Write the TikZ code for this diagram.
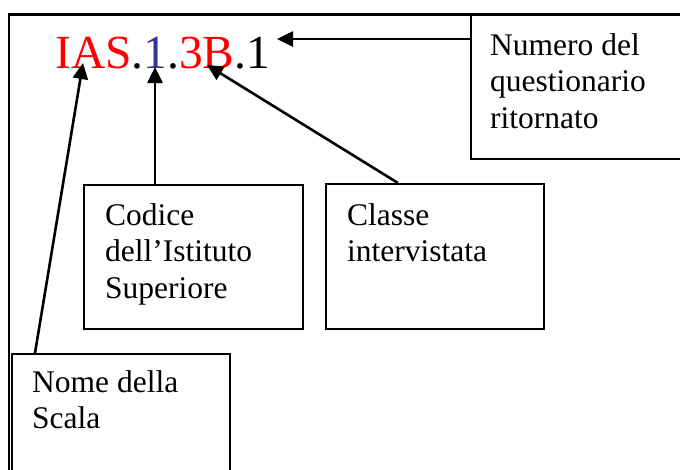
\documentclass[tikz,border=0pt]{standalone}
\usepackage{fontspec}
\setmainfont{Liberation Serif}
\usetikzlibrary{arrows.meta}
\definecolor{codeblue}{RGB}{51,51,153}
\definecolor{codered}{RGB}{255,0,0}
\begin{document}
\begin{tikzpicture}[x=1pt,y=-1pt,
  box/.style={draw, line width=1.8pt, inner sep=0pt, anchor=north west},
  lbl/.style={anchor=base west, inner sep=0pt, font=\fontsize{31.5}{36.5}\selectfont},
  conn/.style={line width=2.6pt, -{Triangle[length=16pt,width=15pt]}}]
\useasboundingbox (0,0) rectangle (680,469);
\clip (0,0) rectangle (680,469);
\fill[white] (0,0) rectangle (680,469);
% outer frame
\draw[line width=1.8pt] (9,480) -- (9,14);
\draw[line width=3pt] (8,14) -- (700,14);
% code
\node[anchor=base west, inner sep=0pt, font=\fontsize{47.5}{48}\selectfont] (code) at (55,68)
  {\textcolor{codered}{IAS}.\textcolor{codeblue}{1}.\textcolor{codered}{3B}.1};
% boxes
\node[box, minimum width=240pt, minimum height=144pt] (num) at (470,14) {};
\node[box, minimum width=219pt, minimum height=144pt] (cod) at (83,184) {};
\node[box, minimum width=218pt, minimum height=145pt] (cla) at (325,183) {};
\node[box, minimum width=218pt, minimum height=140pt] (nom) at (11,353) {};
% labels
\node[lbl] (numtxt) at (490,55) {\parbox[t]{185pt}{\raggedright Numero del\\questionario\\ritornato}};
\node[lbl] (codtxt) at (105,225) {\parbox[t]{195pt}{\raggedright Codice\\dell'Istituto\\Superiore}};
\node[lbl] (clatxt) at (347,225) {\parbox[t]{190pt}{\raggedright Classe\\intervistata}};
\node[lbl] (nomtxt) at (32,392) {\parbox[t]{190pt}{\raggedright Nome della\\Scala}};
% connector endpoints
\coordinate (numL) at (470,39);
\coordinate (tipNum) at (277,39);
\coordinate (codT) at (155,184);
\coordinate (tipCod) at (155,67);
\coordinate (claT) at (398,183);
\coordinate (tipCla) at (207,65);
\coordinate (nomT) at (35,353);
\coordinate (tipNom) at (83,63);
% connectors
\draw[conn] (numL) -- (tipNum);
\draw[conn] (codT) -- (tipCod);
\draw[conn] (claT) -- (tipCla);
\draw[conn] (nomT) -- (tipNom);
\end{tikzpicture}
\end{document}
